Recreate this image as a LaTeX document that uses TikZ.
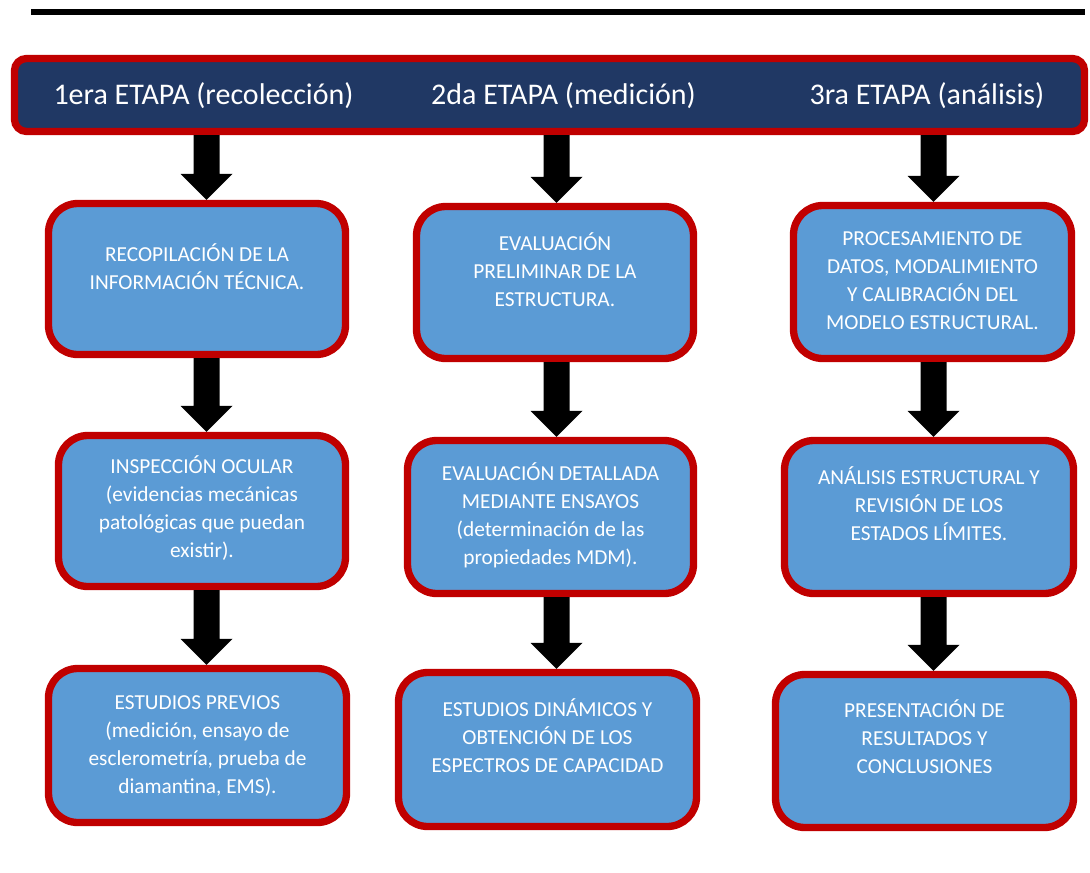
\documentclass[tikz,border=0pt]{standalone}
\usepackage{fontspec}
\setmainfont{Carlito}
\usetikzlibrary{calc}
\definecolor{bordred}{HTML}{C00000}
\definecolor{navy}{HTML}{203864}
\definecolor{boxblue}{HTML}{5B9BD5}
\newcommand\blockarrow[2]{%
  \fill[black] let \p1=(#1), \p2=(#2) in
    (\x1-9.75pt,\y1) -- (\x1+9.75pt,\y1) -- (\x1+9.75pt,\y2+19.5pt) --
    (\x1+19.5pt,\y2+19.5pt) -- (\x1,\y2) -- (\x1-19.5pt,\y2+19.5pt) --
    (\x1-9.75pt,\y2+19.5pt) -- cycle;}
\begin{document}
\begin{tikzpicture}[x=0.75pt,y=-0.75pt,
  pbox/.style={draw=bordred, fill=boxblue, line width=5.5pt, rounded corners=22pt, inner sep=0pt},
  hbox/.style={draw=bordred, fill=navy, line width=5.5pt, rounded corners=9pt, inner sep=0pt},
  lbl/.style={text=white, align=center, inner sep=0pt, font=\fontsize{16}{21}\selectfont},
  hlbl/.style={text=white, inner sep=0pt, anchor=base, font=\fontsize{22.5}{27}\selectfont}]
\useasboundingbox (0,0) rectangle (1090,872);
% top rule
\draw[line width=4.5pt] (31,12) -- (1085,12);
% header
\node[hbox, minimum width=802.5pt, minimum height=54.75pt] (hdr) at (549.5,95) {};
\node[hlbl] (h1) at (203.5,104) {1era ETAPA (recolección)};
\node[hlbl] (h2) at (563.5,104) {2da ETAPA (medición)};
\node[hlbl] (h3) at (927,104) {3ra ETAPA (análisis)};
% column 1
\node[pbox, minimum width=222.75pt, minimum height=113.25pt] (b11) at (197,279) {};
\node[pbox, minimum width=215.25pt, minimum height=113.25pt] (b12) at (202,511) {};
\node[pbox, minimum width=223.5pt, minimum height=115.5pt] (b13) at (197.5,745.5) {};
% column 2
\node[pbox, minimum width=207.75pt, minimum height=114pt] (b21) at (555,282.5) {};
\node[pbox, minimum width=214.5pt, minimum height=114.75pt] (b22) at (550.5,517) {};
\node[pbox, minimum width=223.5pt, minimum height=115.5pt] (b23) at (547.5,749.5) {};
% column 3
\node[pbox, minimum width=208.5pt, minimum height=114.75pt] (b31) at (932.5,282) {};
\node[pbox, minimum width=216.75pt, minimum height=114.75pt] (b32) at (929,517) {};
\node[pbox, minimum width=223.5pt, minimum height=114.75pt] (b33) at (924.5,751) {};
% labels
\node[lbl] (t11) at ([yshift=6.75pt]b11.center) {\strut RECOPILACIÓN DE LA\\INFORMACIÓN TÉCNICA.\strut};
\node[lbl] (t12) at ([yshift=0.75pt]b12.center) {\strut INSPECCIÓN OCULAR\\(evidencias mecánicas\\patológicas que puedan\\existir).\strut};
\node[lbl] (t13) at (b13.center) {\strut ESTUDIOS PREVIOS\\(medición, ensayo de\\esclerometría, prueba de\\diamantina, EMS).\strut};
\node[lbl] (t21) at ([yshift=7.5pt]b21.center) {\strut EVALUACIÓN\\PRELIMINAR DE LA\\ESTRUCTURA.\strut};
\node[lbl] (t22) at (b22.center) {\strut EVALUACIÓN DETALLADA\\MEDIANTE ENSAYOS\\(determinación de las\\propiedades MDM).\strut};
\node[lbl] (t23) at ([yshift=7.9pt]b23.center) {\strut ESTUDIOS DINÁMICOS Y\\OBTENCIÓN DE LOS\\ESPECTROS DE CAPACIDAD\strut};
\node[lbl] (t31) at (b31.center) {\strut PROCESAMIENTO DE\\DATOS, MODALIMIENTO\\Y CALIBRACIÓN DEL\\MODELO ESTRUCTURAL.\strut};
\node[lbl] (t32) at ([yshift=7.5pt]b32.center) {\strut ANÁLISIS ESTRUCTURAL Y\\REVISIÓN DE LOS\\ESTADOS LÍMITES.\strut};
\node[lbl] (t33) at ([yshift=8.25pt]b33.center) {\strut PRESENTACIÓN DE\\RESULTADOS Y\\CONCLUSIONES\strut};
% arrow columns
\coordinate (c1) at (206.5,0);
\coordinate (c2) at (556.5,0);
\coordinate (c3) at (933.5,0);
\blockarrow{c1 |- hdr.south}{c1 |- b11.north}
\blockarrow{c1 |- b11.south}{c1 |- b12.north}
\blockarrow{c1 |- b12.south}{c1 |- b13.north}
\blockarrow{c2 |- hdr.south}{c2 |- b21.north}
\blockarrow{c2 |- b21.south}{c2 |- b22.north}
\blockarrow{c2 |- b22.south}{c2 |- b23.north}
\blockarrow{c3 |- hdr.south}{c3 |- b31.north}
\blockarrow{c3 |- b31.south}{c3 |- b32.north}
\blockarrow{c3 |- b32.south}{c3 |- b33.north}
\end{tikzpicture}
\end{document}
